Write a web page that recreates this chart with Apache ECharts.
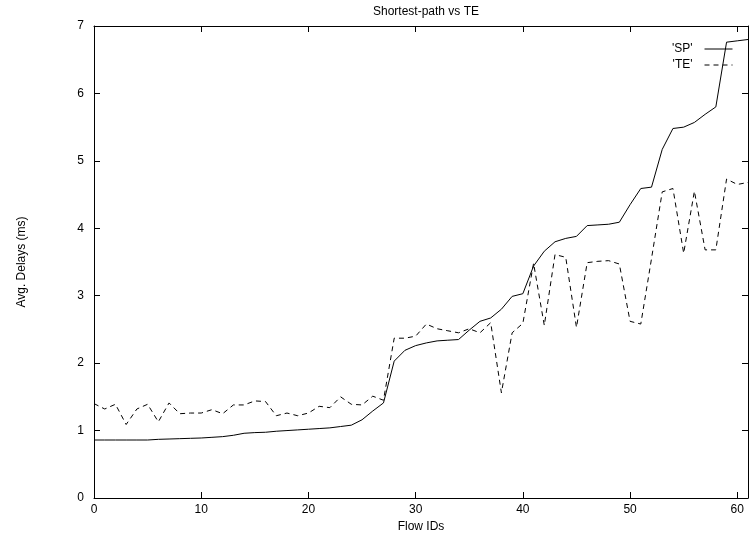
<!DOCTYPE html>
<html>
<head>
<meta charset="utf-8">
<script src="https://cdn.jsdelivr.net/npm/echarts@6/dist/echarts.min.js"></script>
<style>
  html, body { margin: 0; padding: 0; background: #fff; }
  #chart { width: 749px; height: 541px; }
</style>
</head>
<body>
<div id="chart"></div>
<script>
// Flow identifiers along the x axis
const flowIds = [0, 1, 2, 3, 4, 5, 6, 7, 8, 9, 10, 11, 12, 13, 14, 15, 16, 17, 18, 19,
  20, 21, 22, 23, 24, 25, 26, 27, 28, 29, 30, 31, 32, 33, 34, 35, 36, 37, 38, 39,
  40, 41, 42, 43, 44, 45, 46, 47, 48, 49, 50, 51, 52, 53, 54, 55, 56, 57, 58, 59, 60, 61];

// Average delay (ms) per flow with shortest-path routing
const spDelays = [0.86, 0.86, 0.86, 0.86, 0.86, 0.86, 0.87, 0.875, 0.88, 0.885,
  0.89, 0.90, 0.91, 0.93, 0.96, 0.97, 0.975, 0.99, 1.00, 1.01,
  1.02, 1.03, 1.04, 1.06, 1.08, 1.16, 1.29, 1.41, 2.03, 2.19,
  2.26, 2.30, 2.33, 2.34, 2.35, 2.49, 2.62, 2.67, 2.80, 2.99,
  3.03, 3.44, 3.66, 3.80, 3.85, 3.88, 4.04, 4.05, 4.06, 4.09,
  4.35, 4.59, 4.61, 5.17, 5.48, 5.50, 5.57, 5.69, 5.80, 6.76,
  6.78, 6.80];

// Average delay (ms) per flow with traffic engineering
const teDelays = [1.40, 1.32, 1.39, 1.09, 1.32, 1.39, 1.13, 1.41, 1.25, 1.26,
  1.26, 1.31, 1.25, 1.38, 1.38, 1.44, 1.43, 1.22, 1.26, 1.22,
  1.26, 1.36, 1.34, 1.50, 1.39, 1.38, 1.51, 1.45, 2.37, 2.37,
  2.40, 2.58, 2.51, 2.48, 2.45, 2.51, 2.45, 2.60, 1.56, 2.45,
  2.59, 3.48, 2.56, 3.61, 3.57, 2.53, 3.49, 3.51, 3.52, 3.47,
  2.62, 2.58, 3.55, 4.54, 4.59, 3.63, 4.55, 3.68, 3.68, 4.73,
  4.65, 4.68];

const seriesNames = ["'SP'", "'TE'"];

const pair = (vals) => flowIds.map((id, i) => [id, vals[i]]);

const FONT = 'Liberation Sans, Arial, sans-serif';
const tickCommon = { inside: true, length: 6, lineStyle: { color: '#000', width: 1 } };
const lineCommon = { show: true, onZero: false, lineStyle: { color: '#000', width: 1 } };

const chart = echarts.init(document.getElementById('chart'), null, { renderer: 'canvas' });
chart.setOption({
  backgroundColor: '#fff',
  animation: false,
  title: {
    text: 'Shortest-path vs TE',
    left: 421, top: 1, textAlign: 'center',
    textStyle: { fontFamily: FONT, fontSize: 12, fontWeight: 'normal', color: '#000' }
  },
  legend: {
    right: 11, top: 38, orient: 'vertical', align: 'right',
    itemWidth: 28, itemHeight: 10, itemGap: 4,
    // legend keys show only the line sample, no point marker
    itemStyle: { opacity: 0 },
    lineStyle: { width: 1 },
    textStyle: { fontFamily: FONT, fontSize: 12, color: '#000', padding: [0, 7, 0, 0] },
    data: seriesNames
  },
  grid: { left: 94, right: 1, top: 26, bottom: 43, containLabel: false },
  xAxis: [
    {
      type: 'value', min: 0, max: 61, interval: 10, position: 'bottom',
      name: 'Flow IDs', nameLocation: 'middle', nameGap: 18,
      nameTextStyle: { fontFamily: FONT, fontSize: 12, color: '#000' },
      axisLine: lineCommon, axisTick: tickCommon,
      axisLabel: { fontFamily: FONT, fontSize: 12, color: '#000', margin: 6, showMaxLabel: false },
      splitLine: { show: false }
    },
    {
      type: 'value', min: 0, max: 61, interval: 10, position: 'top',
      axisLine: lineCommon, axisTick: tickCommon,
      axisLabel: { show: false }, splitLine: { show: false }
    }
  ],
  yAxis: [
    {
      type: 'value', min: 0, max: 7, interval: 1, position: 'left',
      name: 'Avg. Delays (ms)', nameLocation: 'middle', nameGap: 66, nameRotate: 90,
      nameTextStyle: { fontFamily: FONT, fontSize: 12, color: '#000' },
      axisLine: lineCommon, axisTick: tickCommon,
      axisLabel: { fontFamily: FONT, fontSize: 12, color: '#000', margin: 10 },
      splitLine: { show: false }
    },
    {
      type: 'value', min: 0, max: 7, interval: 1, position: 'right',
      axisLine: lineCommon, axisTick: tickCommon,
      axisLabel: { show: false }, splitLine: { show: false }
    }
  ],
  series: [
    {
      name: seriesNames[0], type: 'line', data: pair(spDelays),
      symbol: 'none', showSymbol: false,
      itemStyle: { color: '#000' },
      lineStyle: { color: '#000', width: 1, type: 'solid' }
    },
    {
      name: seriesNames[1], type: 'line', data: pair(teDelays),
      symbol: 'none', showSymbol: false,
      itemStyle: { color: '#000' },
      lineStyle: { color: '#000', width: 1, type: [5, 4] }
    }
  ]
});
</script>
</body>
</html>
